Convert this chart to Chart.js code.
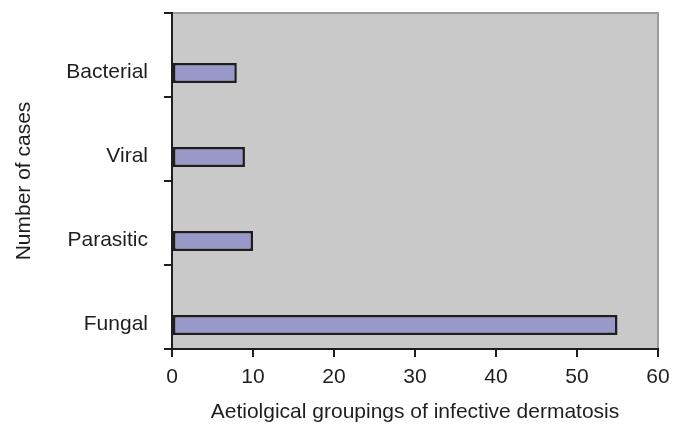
<!DOCTYPE html>
<html>
<head>
<meta charset="utf-8">
<script src="https://cdn.jsdelivr.net/npm/chart.js@4"></script>
<style>
html,body{margin:0;padding:0;background:#fff;}
#wrap{width:684px;height:425px;position:relative;}
</style>
</head>
<body>
<div id="wrap"><canvas id="c" width="684" height="425"></canvas></div>
<script>
const categories = ["Bacterial", "Viral", "Parasitic", "Fungal"];
const caseCounts = [8, 9, 10, 55];
const xTickValues = [0, 10, 20, 30, 40, 50, 60];

const FONT = "'Liberation Sans', Arial, sans-serif";

const plotBg = {
  id: 'plotBg',
  beforeDraw(chart) {
    const {ctx, chartArea: a} = chart;
    ctx.save();
    ctx.fillStyle = '#c9c9c9';
    ctx.fillRect(a.left, a.top, a.right - a.left, a.bottom - a.top);
    ctx.strokeStyle = '#9a9a9a';
    ctx.lineWidth = 2;
    ctx.beginPath();
    ctx.moveTo(a.left, a.top);
    ctx.lineTo(a.right, a.top);
    ctx.lineTo(a.right, a.bottom);
    ctx.stroke();
    ctx.restore();
  }
};

new Chart(document.getElementById('c'), {
  type: 'bar',
  data: {
    labels: categories,
    datasets: [
      { label: 'spacer', data: categories.map(() => null), backgroundColor: 'rgba(0,0,0,0)' },
      {
        label: 'Number of cases',
        data: caseCounts,
        backgroundColor: '#9898c9',
        borderColor: '#1e1e1e',
        borderWidth: 2.5,
        borderSkipped: false
      }
    ]
  },
  options: {
    indexAxis: 'y',
    responsive: false,
    animation: false,
    layout: { padding: { top: 13, right: 26, left: 0, bottom: 0 } },
    datasets: { bar: { categoryPercentage: 0.857, barPercentage: 0.556 } },
    plugins: { legend: { display: false }, tooltip: { enabled: false } },
    scales: {
      x: {
        type: 'linear',
        min: 0,
        max: 60,
        afterBuildTicks(scale) { scale.ticks = xTickValues.map(v => ({ value: v })); },
        afterFit(scale) { scale.height = 76; },
        grid: { drawOnChartArea: false, color: '#1e1e1e', lineWidth: 2, tickLength: 8 },
        border: { color: '#1e1e1e', width: 2 },
        ticks: { color: '#1e1e1e', padding: 8, font: { family: FONT, size: 21 } },
        title: {
          display: true,
          text: 'Aetiolgical groupings of infective dermatosis',
          color: '#1e1e1e',
          font: { family: FONT, size: 21 },
          padding: { top: 0, bottom: 0 }
        }
      },
      y: {
        type: 'category',
        offset: true,
        afterFit(scale) { scale.width = 172; scale.paddingTop = 0; scale.paddingBottom = 0; },
        grid: { offset: true, drawOnChartArea: false, color: '#1e1e1e', lineWidth: 2, tickLength: 8 },
        border: { color: '#1e1e1e', width: 2 },
        ticks: { color: '#1e1e1e', padding: 16, labelOffset: 17, font: { family: FONT, size: 21 } },
        title: {
          display: true,
          text: 'Number of cases',
          color: '#1e1e1e',
          font: { family: FONT, size: 21 },
          padding: { top: 12, bottom: 0 }
        }
      }
    }
  },
  plugins: [plotBg]
});
</script>
</body>
</html>
